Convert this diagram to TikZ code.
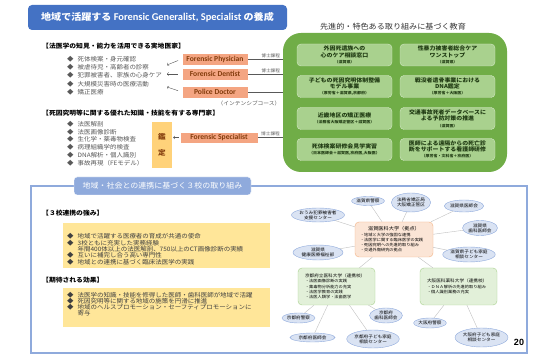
\documentclass[tikz,border=0pt]{standalone}
\usepackage{fontspec}
\setmainfont{Noto Sans CJK JP}[FakeStretch=1.08]
\newfontfamily\latin{Carlito}
\newfontfamily\arial{Liberation Sans}
\usetikzlibrary{shapes.geometric}

\definecolor{titleblue}{HTML}{4472C4}
\definecolor{salmon}{HTML}{F4A582}
\definecolor{rust}{HTML}{843C0C}
\definecolor{kanteiyellow}{HTML}{FFD27A}
\definecolor{panelgreen}{HTML}{70AD47}
\definecolor{innergreen}{HTML}{A9D18E}
\definecolor{darkgreen}{HTML}{1F3A12}
\definecolor{paleblue}{HTML}{8FAADC}
\definecolor{lightblue}{HTML}{DAE3F3}
\definecolor{paleyellow}{HTML}{FFE699}
\definecolor{palepeach}{HTML}{FBE5D6}
\definecolor{peachline}{HTML}{F4B183}
\definecolor{palegreen}{HTML}{E2F0D9}
\definecolor{greyline}{HTML}{A6A6A6}
\definecolor{greytext}{HTML}{595959}

\newcommand{\fsize}[2]{\fontsize{#1}{#2}\selectfont}
\newcommand{\bul}{◆\hspace{4pt}}
\newcommand{\nobul}{\phantom{◆}\hspace{4pt}}

\begin{document}
\begin{tikzpicture}[x=1pt, y=-1pt,
  orangebox/.style={fill=salmon, draw=white, text=rust, font=\latin\bfseries\fsize{7.6}{8},
    minimum width=66pt, minimum height=12pt, inner sep=0pt},
  greybullet/.style={anchor=west, text=greytext, font=\fsize{6}{7}, inner sep=0pt},
  heading/.style={anchor=west, font=\bfseries\fsize{6.3}{7}, inner sep=0pt},
  arr/.style={arrows={-to}, draw=greytext, thin, shorten <=4pt},
  phdline/.style={draw=greytext, thin},
  phdlabel/.style={above, font=\fsize{4.3}{5}, text=greytext, inner sep=1pt},
  eduitem/.style={fill=innergreen, draw=innergreen!50!white, rounded corners=4pt,
    minimum width=95pt, minimum height=22pt, text=darkgreen,
    font=\bfseries\fsize{5.5}{6.3}, align=center, inner sep=1pt},
  yellowbox/.style={fill=paleyellow, minimum width=207pt, inner sep=0pt},
  ybullet/.style={anchor=west, font=\fsize{6}{7}, text=black!75, inner sep=0pt},
  netnode/.style={ellipse, draw=paleblue, fill=lightblue, font=\fsize{4.3}{5},
    align=center, inner sep=0pt},
  uninode/.style={rounded corners=4pt, minimum width=77pt, minimum height=37pt,
    text width=63pt, align=left, font=\fsize{3.9}{5.2}, inner sep=0pt},
  netline/.style={draw=greyline!70, thin}]

\fill[white] (0,0) rectangle (539,358);
\useasboundingbox (0,0) rectangle (539,358);

%title
\node[fill=titleblue, rounded corners=4pt, minimum width=259pt, minimum height=25pt,
  text=white, font=\bfseries\fsize{9.3}{10}] (title) at (157.5,17.5)
  {地域で活躍する {\latin\fsize{10.4}{11}Forensic Generalist, Specialist} の養成};

%practitioners
\node[heading] (gphead) at (42,46) {【法医学の知見・能力を活用できる実地医家】};
\foreach \txt [count=\i] in {死体検案・身元確認, 被虐待児・高齢者の診察,
    犯罪被害者、家族の心身ケア, 大規模災害時の医療活動, 矯正医療}
  \node[greybullet] (gp\i) at (67,51+8.2*\i) {\bul\txt};

\node[orangebox] (fp) at (215,59) {Forensic Physician};
\node[orangebox] (fd) at (215,74) {Forensic Dentist};
\node[orangebox] (pd) at (215,92) {Police Doctor};
\node[font=\fsize{5.3}{6}, text=greytext] (intensive) at (249,103) {（インテンシブコース）};

\coordinate (fptip) at (167,65);
\coordinate (fdtip) at (167,74);
\coordinate (pdtip) at (167,87);
\draw[arr] (fp.west) -- (fptip);
\draw[arr] (fd.west) -- (fdtip);
\draw[arr] (pd.west) -- (pdtip);

%specialists
\node[heading] (sphead) at (42,113) {【死因究明等に関する優れた知識・技能を有する専門家】};
\foreach \txt [count=\i] in {法医解剖, 法医画像診断, 生化学・薬毒物検査,
    病理組織学的検査, DNA解析・個人識別, 事故再現（FEモデル）}
  \node[greybullet] (sp\i) at (67,116.2+7.8*\i) {\bul\txt};

\node[fill=kanteiyellow, minimum width=20pt, minimum height=46pt, inner sep=0pt,
  text=rust, font=\bfseries\fsize{7}{16}, align=center] (kantei) at (162,145) {鑑\\定};
\node[orangebox, minimum width=78pt, minimum height=11pt] (fs) at (219,137.5) {Forensic Specialist};
\draw[arr, shorten <=1pt, shorten >=1pt] (fs.west) -- (fs.west -| kantei.east);

%education panel
\node[font=\fsize{7.5}{8}, text=black!80] (edutitle) at (393,27) {先進的・特色ある取り組みに基づく教育};
\node[fill=panelgreen, rounded corners=18pt, minimum width=224pt, minimum height=139pt] (edu) at (395,102.5) {};

\draw[phdline] (fp.east) -- (fp.east -| edu.west) node[phdlabel, pos=0.65] {博士課程};
\draw[phdline] (fd.east) -- (fd.east -| edu.west) node[phdlabel, pos=0.65] {博士課程};
\draw[phdline] (pd.east) -- (pd.east -| edu.west);
\draw[phdline] (fs.east) -- (fs.east -| edu.west) node[phdlabel, pos=0.5] {博士課程};

\node[eduitem] (e11) at (344.5,55) {外因死遺族への\\心のケア相談窓口\\{\fsize{3.7}{4.5}（滋賀県）}};
\node[eduitem] (e12) at (447.5,55) {性暴力被害者総合ケア\\ワンストップ\\{\fsize{3.7}{4.5}（滋賀県）}};
\node[eduitem] (e21) at (344.5,86.5) {子どもの死因究明体制整備\\モデル事業\\{\fsize{3.7}{4.5}（厚労省＋滋賀県,京都府）}};
\node[eduitem] (e22) at (447.5,86.5) {戦没者遺骨事業における\\DNA鑑定\\{\fsize{3.7}{4.5}（厚労省＋大阪医）}};
\node[eduitem] (e31) at (344.5,118.5) {近畿地区の矯正医療\\{\fsize{3.7}{4.5}（法務省大阪矯正管区＋滋賀医）}};
\node[eduitem] (e32) at (447.5,118.5) {交通事故死者データベースに\\よる予防対策の推進\\{\fsize{3.7}{4.5}（滋賀医）}};
\node[eduitem] (e41) at (344.5,149.5) {死体検案研修会見学実習\\{\fsize{3.7}{4.5}（日本医師会＋滋賀医,京府医,大阪医）}};
\node[eduitem] (e42) at (447.5,149.5) {医師による遠隔からの死亡診\\断をサポートする看護師研修\\{\fsize{3.7}{4.5}（厚労省・文科省＋京府医）}};

%cooperation panel
\node[draw=paleblue, line width=1.2pt, minimum width=496pt, minimum height=167pt, inner sep=0pt] (coop) at (279,269.5) {};
\node[fill=paleblue, draw=white, rounded corners=3pt, minimum width=177pt, minimum height=18pt,
  text=white, font=\fsize{7.4}{8}] (cooptitle) at (162.5,186) {地域・社会との連携に基づく３校の取り組み};

\node[heading] (sthead) at (42,213) {【３校連携の強み】};
\node[yellowbox, minimum height=45pt] (strength) at (166.5,245.5) {};
\foreach \txt [count=\i] in {{\bul 地域で活躍する医療者の育成が共通の使命},
    {\bul 3校ともに充実した実務経験},
    {\nobul 年間400体以上の法医解剖、750以上のCT画像診断の実績},
    {\bul 互いに補完し合う高い専門性},
    {\bul 地域との連携に基づく臨床法医学の実践}}
  \node[ybullet] (st\i) at (67,230.4+6.3*\i) {\txt};

\node[heading] (efhead) at (42,280) {【期待される効果】};
\node[yellowbox, minimum height=39pt] (effect) at (166.5,307.5) {};
\foreach \txt [count=\i] in {{\bul 法医学の知識・技能を修得した医師・歯科医師が地域で活躍},
    {\bul 死因究明等に関する地域の施策を円滑に推進},
    {\bul 地域のヘルスプロモーション・セーフティプロモーションに},
    {\nobul 寄与}}
  \node[ybullet] (ef\i) at (67,289+6*\i) {\txt};

%network
\node[uninode, fill=palepeach, draw=peachline, text width=68pt, minimum width=78pt, minimum height=35pt] (hub) at (394,239.5)
  {\makebox[68pt]{\fsize{4.8}{5.5}滋賀医科大学（拠点）}\\・地域と大学の強固な連携\\・法医学に関する臨床医学の実践\\・死因究明への先進的取り組み\\・交通外傷研究の拠点};
\node[uninode, fill=palegreen, draw=innergreen] (kpum) at (336.5,286.5)
  {{\fsize{4.3}{5.2}京都府立医科大学（連携校）}\\・法医画像診断の実践\\・薬毒物分析能力の充実\\・法医学教育の実践\\・法医人類学・法歯医学};
\node[uninode, fill=palegreen, draw=innergreen] (omp) at (458.5,286.5)
  {{\fsize{4.3}{5.2}大阪医科薬科大学（連携校）}\\[1pt]・ＤＮＡ解析の先進的取り組み\\・個人識別業務の充実};

\node[netnode, minimum width=53pt, minimum height=14pt] (support) at (318,215) {おうみ犯罪被害者\\支援センター};
\node[netnode, minimum width=33pt, minimum height=9pt] (spolice) at (368,201) {滋賀県警察};
\node[netnode, minimum width=38pt, minimum height=19pt] (corr) at (411,202.5) {法務省矯正局\\大阪矯正管区};
\node[netnode, minimum width=38pt, minimum height=12pt] (sdoc) at (464,206) {滋賀県医師会};
\node[netnode, minimum width=35pt, minimum height=15pt] (sdent) at (480,228) {滋賀県\\歯科医師会};
\node[netnode, minimum width=50pt, minimum height=15pt] (swel) at (318,252.5) {滋賀県\\健康医療福祉部};
\node[netnode, minimum width=48pt, minimum height=15pt] (schild) at (469,254.5) {滋賀県子ども家庭\\相談センター};
\node[netnode, minimum width=33pt, minimum height=10pt] (kpolice) at (298.5,318) {京都府警察};
\node[netnode, minimum width=45pt, minimum height=9pt] (kdoc) at (312.5,337.5) {京都府医師会};
\node[netnode, minimum width=50pt, minimum height=18pt] (kchild) at (373,339) {京都府子ども家庭\\相談センター};
\node[netnode, minimum width=32pt, minimum height=15pt] (kdent) at (386,315.5) {京都府\\歯科医師会};
\node[netnode, minimum width=30pt, minimum height=10pt] (opolice) at (430,323) {大阪府警察};
\node[netnode, minimum width=53pt, minimum height=19pt] (ochild) at (481.5,337.5) {大阪府子ども家庭\\相談センター};

\foreach \n in {support, spolice, corr, sdoc, sdent, swel, schild, kpum, omp}
  \draw[netline] (hub) -- (\n);
\foreach \n in {kpolice, kdoc, kchild, kdent}
  \draw[netline] (kpum) -- (\n);
\foreach \n in {opolice, ochild}
  \draw[netline] (omp) -- (\n);

\node[font=\arial\bfseries\fsize{9}{10}] (page) at (519,342) {20};
\end{tikzpicture}
\end{document}
